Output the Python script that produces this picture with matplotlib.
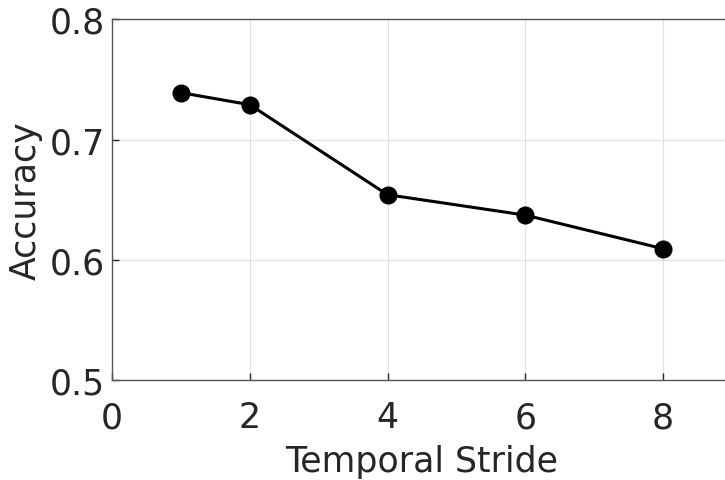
import numpy as np
import matplotlib
matplotlib.use('Agg')
import matplotlib.pyplot as plt

plt.rcParams['font.family'] = ['DejaVu Sans']

# 数据
stride = [1, 2, 4, 6, 8]
accuracy = [0.739, 0.729, 0.654, 0.637, 0.609]
x_ticks = [0, 2, 4, 6, 8]
y_ticks = [0.5, 0.6, 0.7, 0.8]

txt = '#262626'
fig = plt.figure(figsize=(7.25, 4.81), dpi=100)
ax = fig.add_axes([0.1545, 0.2089, 0.855, 0.7485])

ax.plot(stride, accuracy, color='black', linewidth=2.2, marker='o', markersize=12, zorder=3)

ax.set_xlim(0, 9)
ax.set_ylim(0.5, 0.8)
ax.set_xticks(x_ticks)
ax.set_yticks(y_ticks)
ax.set_yticklabels(['0.5', '0.6', '0.7', '0.8'])
ax.grid(True, color='#dfdfdf', linewidth=0.8)
ax.set_axisbelow(True)

ax.tick_params(direction='in', length=5, width=1, colors=txt, labelsize=25)
ax.tick_params(axis='x', pad=15)
ax.tick_params(axis='y', pad=5)
for s in ax.spines.values():
    s.set_color('#555555')
    s.set_linewidth(1)

ax.set_xlabel('Temporal Stride', fontsize=25, color=txt, labelpad=7)
ax.set_ylabel('Accuracy', fontsize=25, color=txt, labelpad=5)

fig.savefig('out.png', dpi=100)
